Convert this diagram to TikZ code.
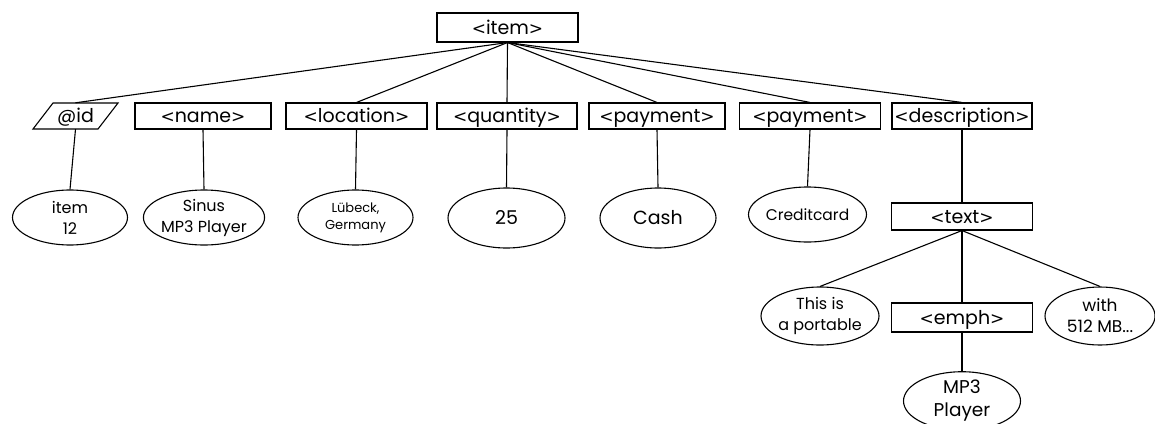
\documentclass[tikz,border=0pt]{standalone}
\usepackage{fontspec}
\setmainfont{Poppins}
\newfontfamily\brkfont{DejaVu Sans}
\newcommand{\tg}[1]{{\brkfont\fontsize{17}{18}\selectfont<}#1{\brkfont\fontsize{17}{18}\selectfont>}}
\usetikzlibrary{shapes.geometric}
\tikzset{
  tag/.style={draw, line width=1.1pt, rectangle, minimum height=26pt, inner sep=0pt, text height=15pt, text depth=2pt, font=\fontsize{19}{20}\selectfont},
  val/.style={draw, line width=1.1pt, ellipse, inner sep=0pt, align=center},
  edge/.style={line width=1.1pt},
}
\begin{document}
\begin{tikzpicture}[x=1pt,y=-1pt]
\useasboundingbox (0,0) rectangle (1155,423);
% root
\node[tag, minimum width=141pt, minimum height=29pt] (item) at (507.5,27.5) {\tg{item}};
% level 1
\node[minimum width=65pt, minimum height=26pt, inner sep=0pt, text height=15pt, text depth=2pt, font=\fontsize{19}{20}\selectfont] (id) at (75.5,116) {@id};
\draw[line width=1.1pt] (33,129) -- (98,129) -- (118,103) -- (53,103) -- cycle;
\node[tag, minimum width=136pt] (name) at (203,116) {\tg{name}};
\node[tag, minimum width=141pt] (loc) at (356.5,116) {\tg{location}};
\node[tag, minimum width=140pt] (qty) at (507,116) {\tg{quantity}};
\node[tag, minimum width=136pt] (pay1) at (657,116) {\tg{payment}};
\node[tag, minimum width=141pt] (pay2) at (810,116) {\tg{payment}};
\node[tag, minimum width=140pt] (desc) at (962,116) {\tg{description}};
% values
\node[val, minimum width=115pt, minimum height=55pt, font=\fontsize{16}{21}\selectfont] (v1) at (70,217.5) {item\\12};
\node[val, minimum width=118pt, minimum height=55pt, font=\fontsize{16}{21}\selectfont] (v2) at (204,217.5) {Sinus\\MP3 Player};
\node[val, minimum width=115pt, minimum height=55pt, font=\fontsize{13}{17}\selectfont] (v3) at (355.5,217.5) {Lübeck,\\Germany};
\node[val, minimum width=117pt, minimum height=60pt, font=\fontsize{19}{20}\selectfont] (v4) at (506.5,218) {25};
\node[val, minimum width=116pt, minimum height=60pt, font=\fontsize{19}{20}\selectfont] (v5) at (658,218) {Cash};
\node[val, minimum width=115pt, minimum height=55pt, font=\fontsize{15.5}{17}\selectfont] (v6) at (807.5,214.5) {Creditcard};
% description subtree
\node[tag, minimum width=141pt, minimum height=27pt] (text) at (962,216.5) {\tg{text}};
\node[val, minimum width=116pt, minimum height=58pt, font=\fontsize{16}{21}\selectfont] (v7) at (820,316) {This is\\a portable};
\node[tag, minimum width=141pt, minimum height=29pt] (emph) at (962,317.5) {\tg{emph}};
\node[val, minimum width=110pt, minimum height=58pt, font=\fontsize{17}{21}\selectfont] (v8) at (1100,316) {with\\512 MB...};
\node[val, minimum width=117pt, minimum height=58pt, font=\fontsize{18.5}{23}\selectfont] (v9) at (962,401) {MP3\\Player};
% connectors
\draw[edge] (item.south) -- (id.north);
\draw[edge] (item.south) -- (loc.north);
\draw[edge] (item.south) -- (qty.north);
\draw[edge] (item.south) -- (pay1.north);
\draw[edge] (item.south) -- (pay2.north);
\draw[edge] (item.south) -- (desc.north);
\draw[edge] (id.south) -- (v1.north);
\draw[edge] (name.south) -- (v2.north);
\draw[edge] (loc.south) -- (v3.north);
\draw[edge] (qty.south) -- (v4.north);
\draw[edge] (pay1.south) -- (v5.north);
\draw[edge] (pay2.south) -- (v6.north);
\draw[edge] (desc.south) -- (text.north);
\draw[edge] (text.south) -- (v7.north);
\draw[edge] (text.south) -- (emph.north);
\draw[edge] (text.south) -- (v8.north);
\draw[edge] (emph.south) -- (v9.north);
\end{tikzpicture}
\end{document}
